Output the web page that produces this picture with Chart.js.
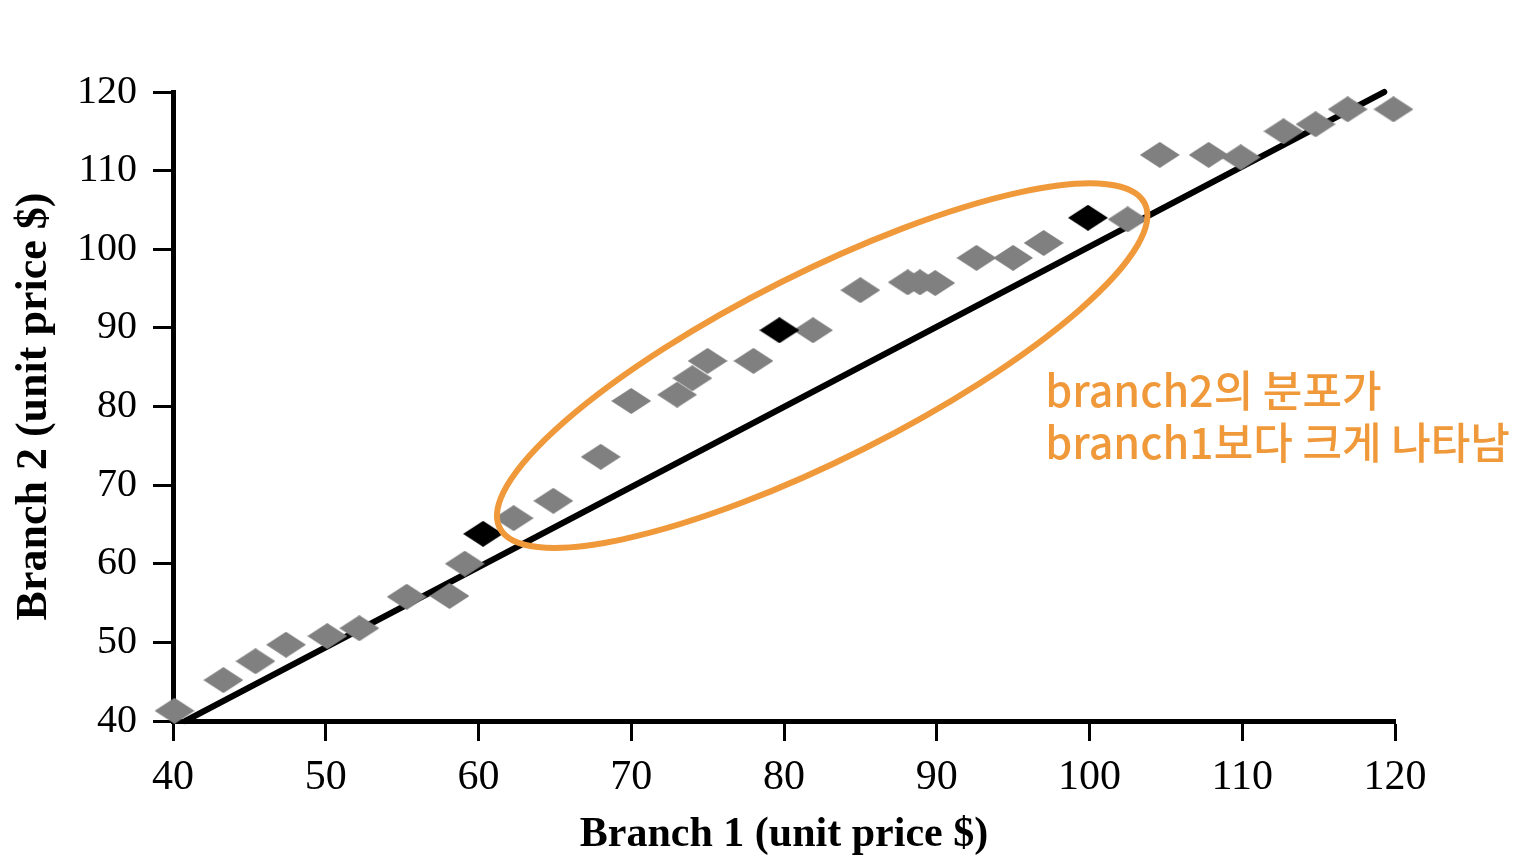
<!DOCTYPE html>
<html>
<head>
<meta charset="utf-8">
<script src="https://cdn.jsdelivr.net/npm/chart.js@4/dist/chart.umd.min.js"></script>
<style>
  html, body { margin: 0; padding: 0; background: #fff; }
  #wrap { width: 1524px; height: 864px; }
</style>
</head>
<body>
<div id="wrap"><canvas id="scatter" width="1524" height="864"></canvas></div>
<script>
const branch1Gray = [40.1, 43.3, 45.4, 47.4, 50.1, 52.2, 55.3, 58.1, 59.1, 62.3, 64.9, 68.0, 70.0, 73.0, 74.0, 75.0,
  78.0, 81.9, 85.0, 88.1, 88.9, 89.9, 92.6, 95.0, 97.0, 102.5, 104.6, 107.8, 109.9, 112.7, 114.8, 116.9, 119.9];
const branch2Gray = [41.3, 45.2, 47.6, 49.7, 50.8, 51.8, 55.8, 55.9, 60.0, 65.8, 68.0, 73.6, 80.7, 81.5, 83.6, 85.8,
  85.8, 89.7, 94.8, 95.8, 95.8, 95.7, 98.9, 98.9, 100.8, 103.8, 112.0, 112.0, 111.7, 115.0, 115.9, 117.8, 117.8];
const branch1Black = [60.3, 79.7, 99.9];
const branch2Black = [63.8, 89.7, 104.0];
const refLineX = [40.8, 119.3];
const refLineY = [40, 120];
const axisTicks = [40, 50, 60, 70, 80, 90, 100, 110, 120];
const noteLines = ['branch2의 분포가', 'branch1보다 크게 나타남'];
const noteAnchor = { x: 97.1, y: 79.9 };
const ellipseCenter = { x: 82.5, y: 85.2 };

const ORANGE = '#F0993B';
const SERIF = '"Liberation Serif", "DejaVu Serif", serif';

function toPoints(xs, ys) {
  return xs.map((x, i) => ({ x: x, y: ys[i] }));
}

function diamond(color) {
  const c = document.createElement('canvas');
  c.width = 40;
  c.height = 26;
  const g = c.getContext('2d');
  g.fillStyle = color;
  g.beginPath();
  g.moveTo(20, 0);
  g.lineTo(40, 13);
  g.lineTo(20, 26);
  g.lineTo(0, 13);
  g.closePath();
  g.fill();
  return c;
}

const noteLayer = {
  id: 'noteLayer',
  afterDatasetsDraw(chart) {
    const ctx = chart.ctx;
    const xs = chart.scales.x;
    const ys = chart.scales.y;
    ctx.save();
    ctx.strokeStyle = ORANGE;
    ctx.lineWidth = 6;
    ctx.beginPath();
    ctx.ellipse(xs.getPixelForValue(ellipseCenter.x), ys.getPixelForValue(ellipseCenter.y),
      361, 93, -26.7 * Math.PI / 180, 0, Math.PI * 2);
    ctx.stroke();
    ctx.fillStyle = ORANGE;
    ctx.font = '500 43px "Noto Sans CJK KR"';
    ctx.textAlign = 'left';
    ctx.textBaseline = 'alphabetic';
    const tx = xs.getPixelForValue(noteAnchor.x);
    const ty = ys.getPixelForValue(noteAnchor.y);
    noteLines.forEach((line, i) => ctx.fillText(line, tx, ty + i * 52));
    ctx.restore();
  }
};

function axisOptions(title, fontSize, titleSize, titlePad, tickPad) {
  return {
    type: 'linear',
    min: 40,
    max: 120,
    afterBuildTicks: scale => { scale.ticks = axisTicks.map(v => ({ value: v })); },
    grid: { display: true, drawOnChartArea: false, drawTicks: true, tickLength: 20, tickWidth: 3, tickColor: '#000' },
    border: { display: true, width: 5, color: '#000' },
    ticks: { color: '#000', padding: tickPad, font: { family: SERIF, size: fontSize } },
    title: { display: true, text: title, color: '#000', padding: titlePad,
      font: { family: SERIF, size: titleSize, weight: 'bold' } }
  };
}

const xAxis = axisOptions('Branch 1 (unit price $)', 42, 42, { top: 0, bottom: 4 }, 12);
xAxis.afterFit = scale => { scale.height = 143; };
const yAxis = axisOptions('Branch 2 (unit price $)', 40, 44, { top: 8, bottom: 0 }, 16);
yAxis.afterFit = scale => { scale.width = 173; };

new Chart(document.getElementById('scatter').getContext('2d'), {
  type: 'scatter',
  data: {
    datasets: [
      {
        label: 'highlight',
        data: toPoints(branch1Black, branch2Black),
        pointStyle: diamond('#000000'),
        pointRadius: 13,
        clip: false
      },
      {
        label: 'prices',
        data: toPoints(branch1Gray, branch2Gray),
        pointStyle: diamond('#808080'),
        pointRadius: 13,
        clip: false
      },
      {
        label: 'reference',
        data: toPoints(refLineX, refLineY),
        showLine: true,
        borderColor: '#000',
        borderWidth: 6,
        borderCapStyle: 'round',
        pointRadius: 0,
        clip: false
      }
    ]
  },
  options: {
    responsive: false,
    animation: false,
    layout: { padding: { left: 0, right: 129, top: 92, bottom: 0 } },
    plugins: { legend: { display: false }, tooltip: { enabled: false } },
    scales: { x: xAxis, y: yAxis }
  },
  plugins: [noteLayer]
});
</script>
</body>
</html>
